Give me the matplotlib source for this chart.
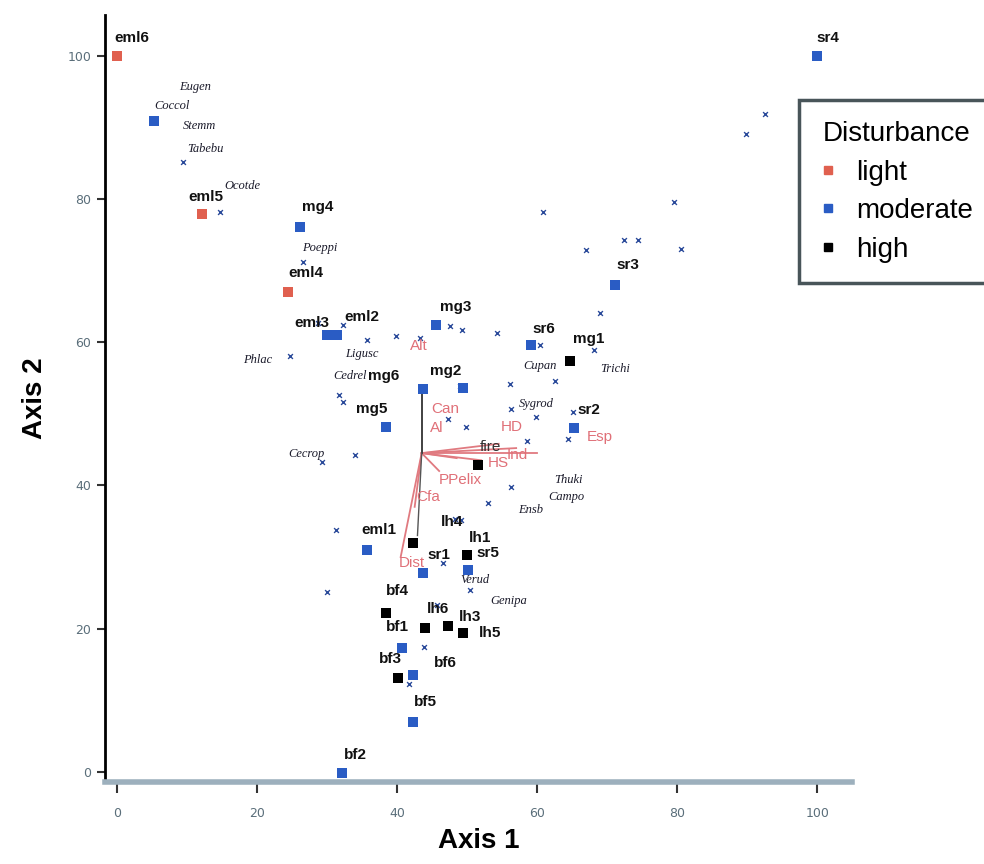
import matplotlib
matplotlib.use("Agg")
import matplotlib.pyplot as plt
from matplotlib.lines import Line2D

# ---------------- data ----------------
site_names = ["eml6", "sr4", "", "eml5", "mg4", "eml4", "eml3", "eml2", "mg3", "sr6",
              "mg1", "sr3", "sr2", "mg6", "mg2", "mg5", "", "eml1", "", "sr1",
              "lh1", "sr5", "bf4", "bf1", "lh3", "lh5", "bf3", "", "bf6", "bf5", "bf2",
              "lh4", "lh6"]
site_x = [0, 100, 5.3, 12.1, 26.1, 24.4, 30.0, 31.4, 45.6, 59.1,
          64.7, 71.1, 65.3, 43.7, 49.4, 38.4, 51.6, 42.3, 35.7, 43.7,
          50.0, 50.1, 38.4, 44.0, 47.3, 49.4, 40.7, 40.1, 42.3, 42.3, 32.1,
          None, None]
site_y = [100, 100, 90.8, 77.9, 76.1, 67.0, 61.0, 61.0, 62.4, 59.6,
          57.3, 67.9, 48.0, 53.4, 53.6, 48.2, 42.9, 32.0, 31.0, 27.8,
          30.3, 28.2, 22.2, 20.1, 20.3, 19.4, 17.3, 13.1, 13.5, 7.0, -0.1,
          None, None]
site_class = ["light", "moderate", "moderate", "light", "moderate", "light", "moderate",
              "moderate", "moderate", "moderate", "high", "moderate", "moderate",
              "moderate", "moderate", "moderate", "high", "high", "moderate", "moderate",
              "high", "moderate", "high", "high", "high", "high", "moderate", "high",
              "moderate", "moderate", "moderate", None, None]

# label positions (data coords) for site names
label_x = [2.1, 101.5, None, 12.6, 28.6, 26.9, 27.8, 34.9, 48.3, 60.9,
           67.4, 73.0, 67.4, 38.0, 46.9, 36.4, None, 37.4, None, 45.9,
           51.9, 53.0, 40.0, 40.0, 50.4, 53.3, 39.0, None, 46.9, 44.0, 34.0,
           47.9, 45.9]
label_y = [102.5, 102.5, None, 80.3, 78.8, 69.6, 62.7, 63.5, 64.9, 61.8,
           60.4, 70.7, 50.5, 55.2, 56.0, 50.6, None, 33.8, None, 30.3,
           32.6, 30.5, 25.3, 20.2, 21.6, 19.4, 15.7, None, 15.2, 9.8, 2.4,
           34.9, 22.7]

species_names = ["Eugen", "Coccol", "Stemm", "Tabebu", "Ocotde", "Poeppi", "Ligusc",
                 "Phlac", "Cedrel", "Cupan", "Trichi", "Sygrod", "Cecrop", "Thuki",
                 "Campo", "Ensb", "Verud", "Genipa"]
species_lx = [11.1, 7.9, 11.7, 12.6, 17.9, 28.9, 34.9, 20.1, 33.3, 60.4,
              71.1, 59.9, 27.0, 64.4, 64.1, 59.1, 51.1, 55.9]
species_ly = [95.6, 93.0, 90.2, 86.9, 81.8, 73.2, 58.4, 57.5, 55.2, 56.6,
              56.3, 51.3, 44.4, 40.8, 38.4, 36.6, 26.8, 23.9]

env_names = ["Alt", "Can", "Al", "HD", "fire", "Ind", "HS", "PPelix", "Cfa", "Dist", "Esp"]
env_lx = [43.1, 46.9, 45.7, 56.4, 53.3, 57.1, 54.4, 49.0, 44.4, 42.1, 69.0]
env_ly = [59.5, 50.6, 48.0, 48.2, 45.4, 44.2, 43.1, 40.8, 38.4, 29.2, 46.8]

vec_origin = (43.5, 44.5)
vec_x = [54.5, 57.0, 60.0, 52.0, 48.5, 42.5, 40.5, 46.0]
vec_y = [45.8, 45.2, 44.5, 43.5, 43.8, 37.0, 30.0, 42.0]
axis_vec_end = (43.5, 53.4)

# small species points (x markers)
sp_x = [9.4, 14.7, 26.6, 28.7, 32.3, 35.7, 39.9, 43.3, 47.6, 49.3, 54.3, 60.4,
        69.0, 68.1, 24.7, 31.7, 32.3, 49.0, 56.1, 62.6, 65.1, 56.3, 59.9, 47.3,
        49.9, 58.6, 64.4, 29.3, 34.0, 56.3, 53.0, 48.3, 49.1, 31.3, 30.0, 45.7,
        50.4, 43.9, 41.7, 46.6, 60.9, 89.9, 92.6, 79.6, 80.6, 72.4, 74.4, 67.0]
sp_y = [85.2, 78.1, 71.2, 62.7, 62.4, 60.3, 60.9, 60.6, 62.3, 61.7, 61.3, 59.6,
        64.1, 58.9, 58.0, 52.6, 51.7, 53.9, 54.2, 54.5, 50.3, 50.6, 49.6, 49.2,
        48.2, 46.2, 46.4, 43.3, 44.3, 39.8, 37.6, 35.3, 35.2, 33.8, 25.1, 23.3,
        25.4, 17.5, 12.2, 29.2, 78.1, 89.1, 91.8, 79.6, 73.0, 74.3, 74.3, 72.9]

colors = {"light": "#e0604f", "moderate": "#2a5cc4", "high": "#000000"}

# ---------------- figure ----------------
fig = plt.figure(figsize=(9.84, 8.64), dpi=100)
ax = fig.add_axes([0.107, 0.095, 0.759, 0.888])
ax.set_xlim(-1.7, 105)
ax.set_ylim(-1.4, 105.7)

# species points
ax.scatter(sp_x, sp_y, marker="x", s=12, color="#2a4a9a", linewidths=1.0, zorder=2)

# env vectors
ox, oy = vec_origin
for vx, vy in zip(vec_x, vec_y):
    ax.plot([ox, vx], [oy, vy], color="#e07a80", lw=1.3, zorder=3)
ax.plot([ox, axis_vec_end[0]], [oy, axis_vec_end[1]], color="#333333", lw=1.3, zorder=3)
ax.plot([ox, ox - 0.6], [oy, 33], color="#555555", lw=1.0, zorder=3)

# sites
for n, x, y, c in zip(site_names, site_x, site_y, site_class):
    if x is None:
        continue
    ax.scatter([x], [y], marker="s", s=55, color=colors[c], zorder=4, linewidths=0)

for n, lx, ly in zip(site_names, label_x, label_y):
    if not n or lx is None:
        continue
    ax.text(lx, ly, n, fontsize=11, family="Liberation Sans", fontweight="bold",
            color="#111111", ha="center", va="center", zorder=5)

for n, lx, ly in zip(species_names, species_lx, species_ly):
    ax.text(lx, ly, n, fontsize=9, family="Liberation Serif", style="italic",
            color="#1a1a2a", ha="center", va="center", zorder=5)

for n, lx, ly in zip(env_names, env_lx, env_ly):
    col = "#333333" if n == "fire" else "#e07078"
    ax.text(lx, ly, n, fontsize=11, family="Liberation Sans", color=col,
            ha="center", va="center", zorder=5)

# axes styling
for s in ["top", "right"]:
    ax.spines[s].set_visible(False)
ax.spines["left"].set_linewidth(2)
ax.spines["left"].set_color("black")
ax.spines["bottom"].set_linewidth(4)
ax.spines["bottom"].set_color("#9db0bd")
ax.set_xticks([0, 20, 40, 60, 80, 100])
ax.set_yticks([0, 20, 40, 60, 80, 100])
ax.tick_params(axis="x", direction="out", length=8, width=1.5, color="#333333",
               labelsize=9, labelcolor="#5a6e7a", pad=10)
ax.tick_params(axis="y", direction="out", length=6, width=1.5, color="#333333",
               labelsize=9, labelcolor="#5a6e7a", pad=4)
ax.set_xlabel("Axis 1", fontsize=20, fontweight="bold", family="Liberation Sans", labelpad=6)
ax.set_ylabel("Axis 2", fontsize=20, fontweight="bold", family="Liberation Sans", labelpad=14)

# legend
handles = [Line2D([], [], marker="s", ls="", color=colors[k], markersize=6)
           for k in ["light", "moderate", "high"]]
leg = fig.legend(handles, ["light", "moderate", "high"], title="Disturbance",
                 loc="upper left", bbox_to_anchor=(0.812, 0.884),
                 prop={"family": "Liberation Sans", "size": 20},
                 title_fontproperties={"family": "Liberation Sans", "size": 20},
                 frameon=True, fancybox=False, handlelength=0.6, handletextpad=0.7,
                 labelspacing=0.45, borderpad=0.75, borderaxespad=0)
leg.get_frame().set_edgecolor("#1a2a30")
leg.get_frame().set_linewidth(2.5)

fig.savefig("out.png", dpi=100)
